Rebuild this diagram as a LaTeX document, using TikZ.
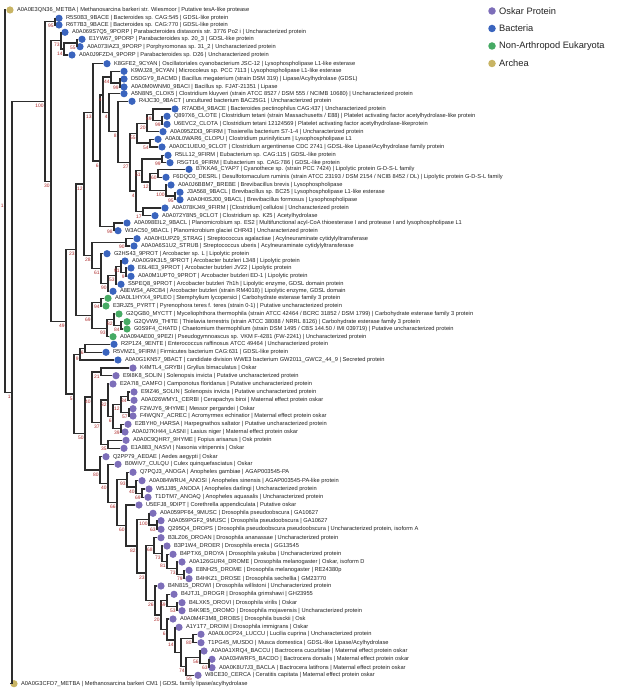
\documentclass[tikz,border=0pt]{standalone}
\usepackage{fontspec}
\setmainfont{Liberation Sans}
\usetikzlibrary{calc}
\definecolor{cosk}{RGB}{125,110,185}
\definecolor{cbac}{RGB}{58,100,190}
\definecolor{ceuk}{RGB}{70,170,100}
\definecolor{carc}{RGB}{200,180,100}
\definecolor{bsred}{RGB}{175,45,45}
\definecolor{txt}{RGB}{35,35,35}
\definecolor{brc}{RGB}{45,45,45}
\tikzset{
  dot/.style={circle,inner sep=0pt,minimum size=7.2pt,draw=none},
  lt/.style={anchor=west,inner sep=0pt,font=\fontsize{5.7}{6}\selectfont,text=txt},
  br/.style={draw=brc,line width=1.3pt},
  bsl/.style={anchor=north east,inner sep=0pt,font=\fontsize{4.9}{5}\selectfont,text=bsred},
  leg/.style={anchor=west,inner sep=0pt,font=\fontsize{9.3}{11}\selectfont,text=txt}
}
\newcommand\leaf[5]{%
  \node[dot,fill=#4] (L#1) at (#2,#3) {};
  \node[lt] (T#1) at ([xshift=6.8pt]L#1.center) {#5};}
\newcommand\inode[4]{%
  \path let \p1=($(#3)!0.5!(#4)$) in coordinate (#1) at (#2pt,\y1);
  \draw[br] (#1) |- (#3);
  \draw[br] (#1) |- (#4);}
\newcommand\bs[2]{\node[bsl] (b#1) at ([xshift=-1.2pt,yshift=-2.6pt]#1) {#2};}
\begin{document}
\begin{tikzpicture}[x=1pt,y=-1pt]
\fill[white] (0,0) rectangle (617,692);
\useasboundingbox (0,0) rectangle (617,692);
% leaves
\leaf{1}{10}{10}{carc}{A0A0E3QN36\_METBA | Methanosarcina barkeri str. Wiesmoor | Putative tesA-like protease}
\leaf{2}{59}{18.3}{cbac}{R5S0B3\_9BACE | Bacteroides sp. CAG:545 | GDSL-like protein}
\leaf{3}{59}{25}{cbac}{R6T7B3\_9BACE | Bacteroides sp. CAG:770 | GDSL-like protein}
\leaf{4}{65}{32.3}{cbac}{A0A069S7Q5\_9PORP | Parabacteroides distasonis str. 3776 Po2 i | Uncharacterized protein}
\leaf{5}{82}{39.3}{cbac}{E1YW67\_9PORP | Parabacteroides sp. 20\_3 | GDSL-like protein}
\leaf{6}{80}{46.7}{cbac}{A0A073IAZ3\_9PORP | Porphyromonas sp. 31\_2 | Uncharacterized protein}
\leaf{7}{72}{55}{cbac}{A0A0J9FZD4\_9PORP | Parabacteroides sp. D26 | Uncharacterized protein}
\leaf{8}{107}{63.7}{cbac}{K8GFE2\_9CYAN | Oscillatoriales cyanobacterium JSC-12 | Lysophospholipase L1-like esterase}
\leaf{9}{124}{71.3}{cbac}{K9WJ28\_9CYAN | Microcoleus sp. PCC 7113 | Lysophospholipase L1-like esterase}
\leaf{10}{124}{79}{cbac}{D5DGY9\_BACMD | Bacillus megaterium (strain DSM 319) | Lipase/Acylhydrolase (GDSL)}
\leaf{11}{124}{87}{cbac}{A0A0M0WNM0\_9BACI | Bacillus sp. FJAT-21351 | Lipase}
\leaf{12}{124}{93.7}{cbac}{A5N8N5\_CLOK5 | Clostridium kluyveri (strain ATCC 8527 / DSM 555 / NCIMB 10680) | Uncharacterized protein}
\leaf{13}{132}{101.3}{cbac}{R4JC30\_9BACT | uncultured bacterium BAC25G1 | Uncharacterized protein}
\leaf{14}{175}{109}{cbac}{R7ADB4\_9BACE | Bacteroides pectinophilus CAG:437 | Uncharacterized protein}
\leaf{15}{167}{116.3}{cbac}{Q897X6\_CLOTE | Clostridium tetani (strain Massachusetts / E88) | Platelet activating factor acetylhydrolase-like protein}
\leaf{16}{167}{124.3}{cbac}{U6EVC2\_CLOTA | Clostridium tetani 12124569 | Platelet activating factor acetylhydrolase-likeprotein}
\leaf{17}{163}{131.7}{cbac}{A0A095ZDI3\_9FIRM | Tissierella bacterium S7-1-4 | Uncharacterized protein}
\leaf{18}{158}{139.3}{cbac}{A0A0L0WAR6\_CLOPU | Clostridium purinilyticum | Lysophospholipase L1}
\leaf{19}{162}{147}{cbac}{A0A0C1UEU0\_9CLOT | Clostridium argentinense CDC 2741 | GDSL-like Lipase/Acylhydrolase family protein}
\leaf{20}{168}{155.3}{cbac}{R5LL12\_9FIRM | Eubacterium sp. CAG:115 | GDSL-like protein}
\leaf{21}{170}{162.7}{cbac}{R5GT16\_9FIRM | Eubacterium sp. CAG:786 | GDSL-like protein}
\leaf{22}{189}{169.3}{cbac}{B7KKA6\_CYAP7 | Cyanothece sp. (strain PCC 7424) | Lipolytic protein G-D-S-L family}
\leaf{23}{166}{177.3}{cbac}{F6DQC0\_DESRL | Desulfotomaculum ruminis (strain ATCC 23193 / DSM 2154 / NCIB 8452 / DL) | Lipolytic protein G-D-S-L family}
\leaf{24}{171}{185}{cbac}{A0A0J6BBM7\_BREBE | Brevibacillus brevis | Lysophospholipase}
\leaf{25}{180}{192.3}{cbac}{J3A568\_9BACL | Brevibacillus sp. BC25 | Lysophospholipase L1-like esterase}
\leaf{26}{180}{199.7}{cbac}{A0A0H0SJ00\_9BACL | Brevibacillus formosus | Lysophospholipase}
\leaf{27}{165}{208}{cbac}{A0A078KJ49\_9FIRM | [Clostridium] cellulosi | Uncharacterized protein}
\leaf{28}{155}{215.7}{cbac}{A0A072Y8N5\_9CLOT | Clostridium sp. K25 | Acetylhydrolase}
\leaf{29}{127}{223}{cbac}{A0A098EIL2\_9BACL | Planomicrobium sp. ES2 | Multifunctional acyl-CoA thioesterase I and protease I and lysophospholipase L1}
\leaf{30}{118}{230.7}{cbac}{W3AC50\_9BACL | Planomicrobium glaciei CHR43 | Uncharacterized protein}
\leaf{31}{137}{238.7}{cbac}{A0A0H1UPZ9\_STRAG | Streptococcus agalactiae | Acylneuraminate cytidylyltransferase}
\leaf{32}{134}{246}{cbac}{A0A0A6S1U2\_STRUB | Streptococcus uberis | Acylneuraminate cytidylyltransferase}
\leaf{33}{107}{253.7}{cbac}{G2HS43\_9PROT | Arcobacter sp. L | Lipolytic protein}
\leaf{34}{125}{261}{cbac}{A0A0G9K3L5\_9PROT | Arcobacter butzleri L348 | Lipolytic protein}
\leaf{35}{131}{268}{cbac}{E6L4E3\_9PROT | Arcobacter butzleri JV22 | Lipolytic protein}
\leaf{36}{131}{276.3}{cbac}{A0A0M1UPT0\_9PROT | Arcobacter butzleri ED-1 | Lipolytic protein}
\leaf{37}{121}{284.3}{cbac}{S5PEQ8\_9PROT | Arcobacter butzleri 7h1h | Lipolytic enzyme, GDSL domain protein}
\leaf{38}{113}{291.3}{cbac}{A8EWS4\_ARCB4 | Arcobacter butzleri (strain RM4018) | Lipolytic enzyme, GDSL domain}
\leaf{39}{108}{298.3}{ceuk}{A0A0L1HYX4\_9PLEO | Stemphylium lycopersici | Carbohydrate esterase family 3 protein}
\leaf{40}{106}{306}{ceuk}{E3RJZ5\_PYRTT | Pyrenophora teres f. teres (strain 0-1) | Putative uncharacterized protein}
\leaf{41}{119}{314}{ceuk}{G2QGB0\_MYCTT | Myceliophthora thermophila (strain ATCC 42464 / BCRC 31852 / DSM 1799) | Carbohydrate esterase family 3 protein}
\leaf{42}{127}{321.7}{ceuk}{G2QVW9\_THITE | Thielavia terrestris (strain ATCC 38088 / NRRL 8126) | Carbohydrate esterase family 3 protein}
\leaf{43}{127}{329}{ceuk}{G0S9F4\_CHATD | Chaetomium thermophilum (strain DSM 1495 / CBS 144.50 / IMI 039719) | Putative uncharacterized protein}
\leaf{44}{113}{336.7}{ceuk}{A0A094AE00\_9PEZI | Pseudogymnoascus sp. VKM F-4281 (FW-2241) | Uncharacterized protein}
\leaf{45}{114}{344.3}{cbac}{R2P1Z4\_9ENTE | Enterococcus raffinosus ATCC 49464 | Uncharacterized protein}
\leaf{46}{106}{352.3}{cbac}{R5VMZ1\_9FIRM | Firmicutes bacterium CAG:631 | GDSL-like protein}
\leaf{47}{118}{360}{cbac}{A0A0G1KN57\_9BACT | candidate division WWE3 bacterium GW2011\_GWC2\_44\_9 | Secreted protein}
\leaf{48}{133}{368}{cosk}{K4MTL4\_GRYBI | Gryllus bimaculatus | Oskar}
\leaf{49}{116}{375.7}{cosk}{E9I8K8\_SOLIN | Solenopsis invicta | Putative uncharacterized protein}
\leaf{50}{113}{384}{cosk}{E2A7I8\_CAMFO | Camponotus floridanus | Putative uncharacterized protein}
\leaf{51}{134}{392}{cosk}{E9IZ46\_SOLIN | Solenopsis invicta | Putative uncharacterized protein}
\leaf{52}{134}{400.3}{cosk}{A0A026WMY1\_CERBI | Cerapachys biroi | Maternal effect protein oskar}
\leaf{53}{133}{408.7}{cosk}{F2WJY6\_9HYME | Messor pergandei | Oskar}
\leaf{54}{133}{416}{cosk}{F4WQN7\_ACREC | Acromyrmex echinatior | Maternal effect protein oskar}
\leaf{55}{128}{424.3}{cosk}{E2BYH0\_HARSA | Harpegnathos saltator | Putative uncharacterized protein}
\leaf{56}{125}{432}{cosk}{A0A0J7KH44\_LASNI | Lasius niger | Maternal effect protein oskar}
\leaf{57}{126}{440.3}{cosk}{A0A0C9QHR7\_9HYME | Fopius arisanus | Osk protein}
\leaf{58}{124}{448.3}{cosk}{E1A883\_NASVI | Nasonia vitripennis | Oskar}
\leaf{59}{106}{456.7}{cosk}{Q2PP79\_AEDAE | Aedes aegypti | Oskar}
\leaf{60}{118}{464.3}{cosk}{B0WIV7\_CULQU | Culex quinquefasciatus | Oskar}
\leaf{61}{133}{472.3}{cosk}{Q7PQJ3\_ANOGA | Anopheles gambiae | AGAP003545-PA}
\leaf{62}{142}{480.7}{cosk}{A0A084WRU4\_ANOSI | Anopheles sinensis | AGAP003545-PA-like protein}
\leaf{63}{149}{489}{cosk}{W5JJ85\_ANODA | Anopheles darlingi | Uncharacterized protein}
\leaf{64}{148}{497.3}{cosk}{T1DTM7\_ANOAQ | Anopheles aquasalis | Uncharacterized protein}
\leaf{65}{139}{505}{cosk}{U5EFJ8\_9DIPT | Corethrella appendiculata | Putative oskar}
\leaf{66}{153}{513.3}{cosk}{A0A059PF64\_9MUSC | Drosophila pseudoobscura | GA10627}
\leaf{67}{161}{520.7}{cosk}{A0A059PGF2\_9MUSC | Drosophila pseudoobscura | GA10627}
\leaf{68}{161}{529.3}{cosk}{Q295Q4\_DROPS | Drosophila pseudoobscura pseudoobscura | Uncharacterized protein, isoform A}
\leaf{69}{161}{537.7}{cosk}{B3LZ06\_DROAN | Drosophila ananassae | Uncharacterized protein}
\leaf{70}{167}{546}{cosk}{B3P1W4\_DROER | Drosophila erecta | GG13545}
\leaf{71}{173}{554.3}{cosk}{B4PTX6\_DROYA | Drosophila yakuba | Uncharacterized protein}
\leaf{72}{182}{562}{cosk}{A0A126GUR4\_DROME | Drosophila melanogaster | Oskar, isoform D}
\leaf{73}{189}{570.3}{cosk}{E8NH25\_DROME | Drosophila melanogaster | RE24380p}
\leaf{74}{189}{578.7}{cosk}{B4HKZ1\_DROSE | Drosophila sechellia | GM23770}
\leaf{75}{161}{586}{cosk}{B4N815\_DROWI | Drosophila willistoni | Uncharacterized protein}
\leaf{76}{174}{594.3}{cosk}{B4JTJ1\_DROGR | Drosophila grimshawi | GH23955}
\leaf{77}{182}{602.7}{cosk}{B4LXK5\_DROVI | Drosophila virilis | Oskar}
\leaf{78}{182}{610.7}{cosk}{B4K9E5\_DROMO | Drosophila mojavensis | Uncharacterized protein}
\leaf{79}{173}{619}{cosk}{A0A0M4F3M8\_DROBS | Drosophila busckii | Osk}
\leaf{80}{179}{627.3}{cosk}{A1Y1T7\_DROIM | Drosophila immigrans | Oskar}
\leaf{81}{201}{634.3}{cosk}{A0A0L0CP24\_LUCCU | Lucilia cuprina | Uncharacterized protein}
\leaf{82}{201}{642.7}{cosk}{T1PG45\_MUSDO | Musca domestica | GDSL-like Lipase/Acylhydrolase}
\leaf{83}{204}{651}{cosk}{A0A0A1XRQ4\_BACCU | Bactrocera cucurbitae | Maternal effect protein oskar}
\leaf{84}{212}{659.3}{cosk}{A0A034WRF5\_BACDO | Bactrocera dorsalis | Maternal effect protein oskar}
\leaf{85}{212}{667.7}{cosk}{A0A0K8U7J3\_BACLA | Bactrocera latifrons | Maternal effect protein oskar}
\leaf{86}{198}{675.3}{cosk}{W8CE30\_CERCA | Ceratitis capitata | Maternal effect protein oskar}
\leaf{87}{14}{683.7}{carc}{A0A0G3CFD7\_METBA | Methanosarcina barkeri CM1 | GDSL family lipase/acylhydrolase}
% internal nodes
\inode{n95}{55}{L2}{L3}
\inode{n55}{77}{L5}{L6}
\inode{n14}{64}{n55}{L7}
\inode{n73}{61}{L4}{n14}
\inode{a2}{120}{L10}{L11}
\inode{a1}{111}{L9}{a2}
\inode{a7}{162}{L15}{L16}
\inode{a6}{153}{L14}{a7}
\inode{a8}{147}{a6}{L17}
\inode{a11}{150}{L18}{L19}
\inode{a10}{137}{a8}{a11}
\inode{a12}{162}{L20}{L21}
\inode{a16}{158}{L22}{L23}
\inode{a22}{175}{L25}{L26}
\inode{a21}{166}{L24}{a22}
\inode{a19}{150}{a16}{a21}
\inode{a15}{142}{a12}{a19}
\inode{a23}{143}{L27}{L28}
\inode{a20}{136}{a15}{a23}
\inode{a14}{130}{a10}{a20}
\inode{a9}{118}{L13}{a14}
\inode{a5}{109}{L12}{a9}
\inode{a3}{103}{a1}{a5}
\inode{a24}{114}{L29}{L30}
\inode{a13}{100}{a3}{a24}
\inode{a4}{93}{L8}{a13}
\inode{n90s}{126}{L31}{L32}
\inode{n9a}{126}{L35}{L36}
\inode{n91}{121}{L34}{n9a}
\inode{n53}{116}{n91}{L37}
\inode{n90}{108}{n53}{L38}
\inode{n61}{101}{L33}{n90}
\inode{n28}{92}{n90s}{n61}
\inode{a18}{84}{a4}{n28}
\inode{n94}{101}{L39}{L40}
\inode{n84}{121}{L42}{L43}
\inode{n82}{114}{L41}{n84}
\inode{n93}{107}{n82}{L44}
\inode{n69}{92}{n94}{n93}
\inode{n23}{76}{a18}{n69}
\inode{n6a}{85}{L45}{L46}
\inode{n9b}{80}{n6a}{L47}
\inode{n21}{101}{L48}{L49}
\inode{n34}{128}{L51}{L52}
\inode{n57}{129}{L53}{L54}
\inode{n12}{121}{n34}{n57}
\inode{n39}{121}{L55}{L56}
\inode{n6c}{113}{n12}{n39}
\inode{n32}{108}{L50}{n6c}
\inode{n35}{108}{L57}{L58}
\inode{n37}{101}{n32}{n35}
\inode{n40}{92}{n21}{n37}
\inode{n69c}{142}{L63}{L64}
\inode{n40c}{136}{L62}{n69c}
\inode{n93i}{127}{L61}{n40c}
\inode{n63b}{157}{L67}{L68}
\inode{n100d}{149}{L66}{n63b}
\inode{n79}{184}{L73}{L74}
\inode{n73b}{177}{L72}{n79}
\inode{n81}{167}{L71}{n73b}
\inode{n73a}{162}{L70}{n81}
\inode{n68}{154}{L69}{n73a}
\inode{n53b}{177}{L77}{L78}
\inode{n59}{167}{L76}{n53b}
\inode{n80}{193}{L81}{L82}
\inode{n63c}{209}{L84}{L85}
\inode{n56}{200}{L83}{n63c}
\inode{n74}{186}{n56}{L86}
\inode{nX}{181}{n80}{n74}
\inode{n14d}{175}{L80}{nX}
\inode{n6d}{167}{L79}{n14d}
\inode{n20}{161}{n59}{n6d}
\inode{n26}{155}{L75}{n20}
\inode{n23d}{146}{n68}{n26}
\inode{n82d}{137}{n100d}{n23d}
\inode{n60}{126}{L65}{n82d}
\inode{n66}{117}{n93i}{n60}
\inode{n40b}{108}{L60}{n66}
\inode{n80i}{100}{L59}{n40b}
\inode{n50}{85}{n40}{n80i}
\inode{n5}{74}{n9b}{n50}
\inode{n49}{66}{n23}{n5}
\inode{a17}{51}{n73}{n49}
\inode{n100}{45}{n95}{a17}
\inode{N1}{12}{n100}{L87}
\inode{R}{5}{L1}{N1}
% support values
\bs{R}{1}\bs{N1}{1}\bs{n100}{100}\bs{n95}{95}\bs{a17}{30}\bs{n73}{73}\bs{n14}{14}\bs{n55}{55}
\bs{a2}{99}\bs{a1}{44}\bs{a3}{4}\bs{a5}{4}\bs{a4}{13}\bs{a7}{99}\bs{a6}{49}\bs{a8}{20}\bs{a9}{8}
\bs{a10}{55}\bs{a11}{54}\bs{a12}{99}\bs{a13}{6}\bs{a14}{27}\bs{a15}{51}\bs{a16}{60}\bs{a18}{12}
\bs{a19}{12}\bs{a20}{4}\bs{a21}{100}\bs{a22}{95}\bs{a23}{17}\bs{a24}{98}
\bs{n90s}{90}\bs{n23}{23}\bs{n28}{28}\bs{n61}{61}\bs{n91}{91}\bs{n9a}{9}\bs{n53}{53}\bs{n90}{90}
\bs{n94}{94}\bs{n69}{69}\bs{n82}{82}\bs{n84}{84}\bs{n93}{93}\bs{n49}{49}\bs{n6a}{6}\bs{n9b}{9}
\bs{n21}{21}\bs{n5}{5}\bs{n40}{40}\bs{n32}{32}\bs{n34}{34}\bs{n12}{12}\bs{n57}{57}\bs{n6c}{6}
\bs{n39}{39}\bs{n37}{37}\bs{n50}{50}\bs{n35}{35}\bs{n80i}{80}\bs{n93i}{93}\bs{n40b}{40}\bs{n40c}{40}
\bs{n69c}{69}\bs{n66}{66}\bs{n100d}{100}\bs{n60}{60}\bs{n63b}{63}\bs{n68}{68}\bs{n82d}{82}
\bs{n73a}{73}\bs{n81}{81}\bs{n73b}{73}\bs{n79}{79}\bs{n23d}{23}\bs{n26}{26}\bs{n59}{59}\bs{n53b}{53}
\bs{n20}{20}\bs{n6d}{6}\bs{n14d}{14}\bs{n80}{80}\bs{n56}{56}\bs{n63c}{63}\bs{n74}{74}
\node[bsl,anchor=center] (b55x) at (189,679) {55};
% legend
\node[dot,minimum size=7.5pt,fill=cosk] (g1) at (492,11) {};
\node[leg] (gt1) at ([xshift=7pt]g1.center) {Oskar Protein};
\node[dot,minimum size=7.5pt,fill=cbac] (g2) at (492,28.5) {};
\node[leg] (gt2) at ([xshift=7pt]g2.center) {Bacteria};
\node[dot,minimum size=7.5pt,fill=ceuk] (g3) at (492,46) {};
\node[leg] (gt3) at ([xshift=7pt]g3.center) {Non-Arthropod Eukaryota};
\node[dot,minimum size=7.5pt,fill=carc] (g4) at (492,63.5) {};
\node[leg] (gt4) at ([xshift=7pt]g4.center) {Archea};
\end{tikzpicture}
\end{document}
